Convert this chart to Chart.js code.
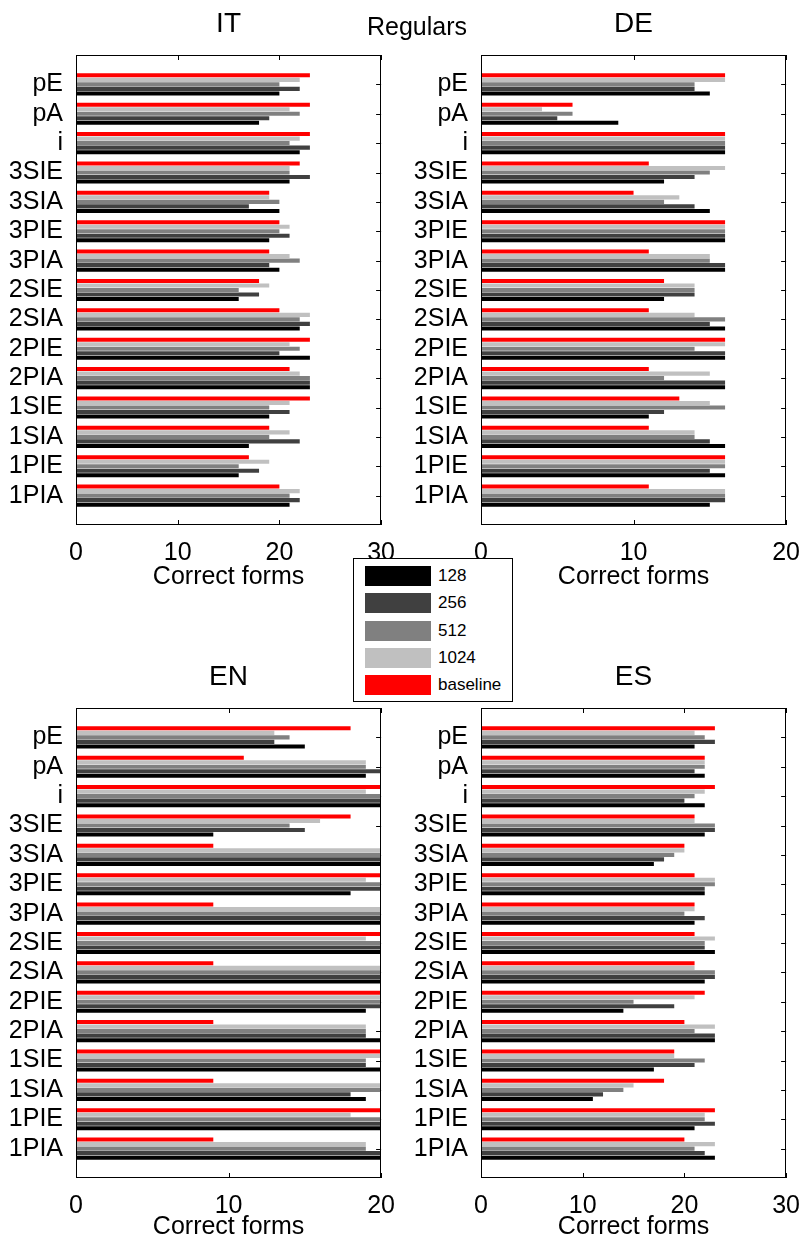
<!DOCTYPE html>
<html>
<head>
<meta charset="utf-8">
<script src="https://cdn.jsdelivr.net/npm/chart.js@4.4.0/dist/chart.umd.min.js"></script>
<style>
  body { margin: 0; background: #fff; width: 805px; height: 1242px; position: relative; overflow: hidden; }
  canvas { position: absolute; }
  #regulars { position: absolute; left: 317px; top: 14px; width: 200px; text-align: center;
              font: 25px/25px 'Liberation Sans', Arial, sans-serif; color: #000; }
  #legend { position: absolute; left: 353px; top: 558px; width: 158px; height: 142px;
            border: 1px solid #000; background: #fff; z-index: 2;
            font: 17px 'Liberation Sans', Arial, sans-serif; color: #000; }
  #legend .sw { position: absolute; left: 11px; width: 66px; height: 20px; }
  #legend .lb { position: absolute; left: 84px; height: 20px; line-height: 20px; }
</style>
</head>
<body>
<canvas id="it" width="400" height="600" style="left:0;top:0"></canvas>
<canvas id="de" width="400" height="600" style="left:405px;top:0"></canvas>
<canvas id="en" width="400" height="602" style="left:0;top:640px"></canvas>
<canvas id="es" width="400" height="602" style="left:405px;top:640px"></canvas>
<div id="regulars">Regulars</div>
<div id="legend"></div>
<script>
// word forms, top of the plot to the bottom
const forms = ['pE', 'pA', 'i', '3SIE', '3SIA', '3PIE', '3PIA', '2SIE', '2SIA', '2PIE', '2PIA', '1SIE', '1SIA', '1PIE', '1PIA'];
const sizes = ['128', '256', '512', '1024', 'baseline'];
const colours = ['#000000', '#404040', '#808080', '#c0c0c0', '#ff0000'];

// correct forms, same order as forms
const it128  = [20, 18, 22, 21, 20, 19, 20, 16, 22, 23, 23, 19, 17, 16, 21];
const it256  = [22, 19, 23, 23, 17, 21, 19, 18, 23, 20, 23, 21, 22, 18, 22];
const it512  = [20, 22, 21, 21, 20, 20, 22, 16, 22, 22, 23, 19, 19, 16, 21];
const it1024 = [22, 21, 22, 21, 19, 21, 21, 19, 23, 21, 22, 21, 21, 19, 22];
const itBase = [23, 23, 23, 22, 19, 20, 19, 18, 20, 23, 21, 23, 19, 17, 20];

const de128  = [15, 9, 16, 12, 15, 16, 16, 12, 16, 16, 16, 11, 16, 16, 15];
const de256  = [14, 5, 16, 14, 14, 16, 16, 14, 15, 16, 16, 12, 15, 15, 16];
const de512  = [14, 6, 16, 15, 12, 16, 15, 14, 16, 14, 12, 16, 14, 16, 16];
const de1024 = [16, 4, 16, 16, 13, 16, 15, 14, 14, 16, 15, 15, 14, 16, 16];
const deBase = [16, 6, 16, 11, 10, 16, 11, 12, 11, 16, 11, 13, 11, 16, 11];

const en128  = [15, 19, 20, 9, 20, 18, 20, 20, 20, 19, 20, 20, 19, 20, 20];
const en256  = [13, 20, 20, 15, 20, 20, 20, 20, 20, 20, 19, 19, 18, 20, 20];
const en512  = [14, 19, 20, 14, 20, 20, 20, 20, 20, 20, 19, 19, 20, 20, 19];
const en1024 = [13, 19, 19, 16, 20, 19, 20, 19, 20, 20, 19, 20, 20, 18, 19];
const enBase = [18, 11, 20, 18, 9, 20, 9, 20, 9, 20, 9, 20, 9, 20, 9];

const es128  = [21, 22, 22, 22, 17, 22, 21, 23, 22, 14, 23, 17, 11, 21, 23];
const es256  = [23, 21, 20, 23, 18, 22, 22, 22, 23, 19, 23, 21, 12, 23, 22];
const es512  = [22, 22, 21, 23, 19, 23, 20, 22, 23, 15, 21, 22, 14, 22, 21];
const es1024 = [21, 22, 22, 21, 20, 23, 21, 23, 21, 21, 23, 19, 15, 22, 23];
const esBase = [23, 22, 23, 21, 20, 21, 21, 21, 21, 22, 20, 19, 18, 23, 20];

const itTicks = [0, 10, 20, 30];
const deTicks = [0, 10, 20];
const enTicks = [0, 10, 20];
const esTicks = [0, 10, 20, 30];

Chart.defaults.font.family = "'Liberation Sans', Arial, sans-serif";
Chart.defaults.color = '#000';

// box round the plot plus matlab-style inward ticks
const frame = {
  id: 'frame',
  beforeDatasetsDraw(chart) {
    const { ctx, chartArea: a, scales: { x, y } } = chart;
    ctx.save();
    ctx.strokeStyle = '#000';
    ctx.lineWidth = 1;
    ctx.beginPath();
    x.ticks.forEach(t => {
      const px = Math.round(x.getPixelForValue(t.value)) + 0.5;
      ctx.moveTo(px, a.top); ctx.lineTo(px, a.top + 5);
      ctx.moveTo(px, a.bottom); ctx.lineTo(px, a.bottom - 5);
    });
    forms.forEach((f, i) => {
      const py = Math.round(y.getPixelForValue(i + 1)) + 0.5;
      ctx.moveTo(a.left, py); ctx.lineTo(a.left + 5, py);
      ctx.moveTo(a.right, py); ctx.lineTo(a.right - 5, py);
    });
    ctx.stroke();
    ctx.restore();
  },
  afterDatasetsDraw(chart) {
    const { ctx, chartArea: a } = chart;
    ctx.save();
    ctx.strokeStyle = '#000';
    ctx.lineWidth = 1;
    ctx.strokeRect(Math.round(a.left) + 0.5, Math.round(a.top) + 0.5,
                   Math.round(a.width) - 1, Math.round(a.height) - 1);
    ctx.restore();
  }
};

const topRow = { titleBox: 55, titlePad: 7, axisBox: 75, labelPad: 8 };
const bottomRow = { titleBox: 68, titlePad: 20, axisBox: 64, labelPad: 0 };

function panel(id, title, ticks, series, row) {
  const maxX = ticks[ticks.length - 1];
  // empty slot above and below so the groups sit one step in from the box
  const labels = [''].concat(forms, ['']);
  const datasets = [4, 3, 2, 1, 0].map(k => ({
    label: sizes[k],
    data: [null].concat(series[k], [null]),
    backgroundColor: colours[k],
    borderWidth: 0,
    categoryPercentage: 0.77,
    barPercentage: 0.9
  }));

  new Chart(document.getElementById(id), {
    type: 'bar',
    data: { labels: labels, datasets: datasets },
    options: {
      indexAxis: 'y',
      responsive: false,
      animation: false,
      devicePixelRatio: 1,
      layout: { padding: { left: 0, right: 17, top: 0, bottom: 0 } },
      plugins: { legend: { display: false }, tooltip: { enabled: false } },
      scales: {
        y: {
          type: 'category',
          offset: false,
          grid: { display: false },
          border: { display: false },
          ticks: { autoSkip: false, padding: 5, font: { size: 25 } },
          afterFit: s => { s.width = 76; }
        },
        x: {
          type: 'linear',
          position: 'bottom',
          min: 0,
          max: maxX,
          afterBuildTicks: s => { s.ticks = ticks.map(v => ({ value: v })); },
          grid: { display: false },
          border: { display: false },
          ticks: { padding: 5, maxRotation: 0, autoSkip: false, font: { size: 25 } },
          title: { display: true, text: 'Correct forms', font: { size: 25 },
                   padding: { top: 0, bottom: row.labelPad } },
          afterFit: s => { s.height = row.axisBox; }
        },
        heading: {
          type: 'linear',
          position: 'top',
          min: 0,
          max: maxX,
          grid: { display: false },
          border: { display: false },
          ticks: { display: false },
          title: { display: true, text: title, font: { size: 28 },
                   padding: { top: row.titlePad, bottom: 0 } },
          afterFit: s => { s.height = row.titleBox; }
        }
      }
    },
    plugins: [frame]
  });
}

panel('it', 'IT', itTicks, [it128, it256, it512, it1024, itBase], topRow);
panel('de', 'DE', deTicks, [de128, de256, de512, de1024, deBase], topRow);
panel('en', 'EN', enTicks, [en128, en256, en512, en1024, enBase], bottomRow);
panel('es', 'ES', esTicks, [es128, es256, es512, es1024, esBase], bottomRow);

const legend = document.getElementById('legend');
sizes.forEach((s, i) => {
  const top = 7 + i * 27.3;
  const sw = document.createElement('div');
  sw.className = 'sw';
  sw.style.top = top + 'px';
  sw.style.background = colours[i];
  const lb = document.createElement('div');
  lb.className = 'lb';
  lb.style.top = top + 'px';
  lb.textContent = s;
  legend.appendChild(sw);
  legend.appendChild(lb);
});
</script>
</body>
</html>
